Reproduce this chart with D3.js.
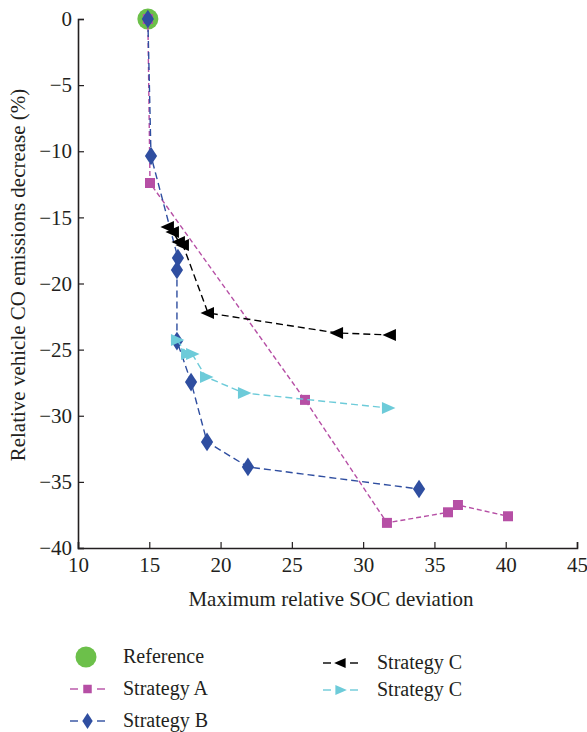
<!DOCTYPE html>
<html><head><meta charset="utf-8">
<script src="https://cdn.jsdelivr.net/npm/d3@7"></script>
<style>body{margin:0;background:#fff}svg{display:block}</style>
</head><body>
<script>
const xTicks = [10,15,20,25,30,35,40,45];
const yTicks = [0,-5,-10,-15,-20,-25,-30,-35,-40];
const refPoint = [[14.9, 0]];
const stratA_x = [14.9, 15.05, 25.92, 31.67, 35.95, 36.65, 40.16];
const stratA_y = [0, -12.4, -28.8, -38.1, -37.3, -36.75, -37.6];
const stratB_x = [14.9, 15.12, 17.01, 16.94, 16.94, 17.93, 19.05, 21.92, 33.92];
const stratB_y = [0, -10.36, -18.07, -18.98, -24.35, -27.45, -31.98, -33.87, -35.54];
const stratC1_x = [16.31, 16.66, 17.08, 17.36, 19.12, 28.17, 31.88];
const stratC1_y = [-15.73, -16.1, -16.86, -17.09, -22.23, -23.74, -23.89];
const stratC2_x = [16.94, 17.65, 18.0, 18.98, 21.64, 31.74];
const stratC2_y = [-24.27, -25.33, -25.33, -27.07, -28.28, -29.41];
const legendLabels = ["Reference","Strategy A","Strategy B","Strategy C","Strategy C"];

const FONT="'Liberation Serif', 'DejaVu Serif', serif";
const W=587,H=732;
const svg=d3.select("body").append("svg").attr("width",W).attr("height",H)
  .attr("font-family",FONT).style("font-family",FONT);
const x=d3.scaleLinear().domain([10,45]).range([78,577]);
const y=d3.scaleLinear().domain([-40,0]).range([548,19]);

const fs=21, lfs=20;
const txtCol="#231f20";
const gx=svg.append("g").attr("transform",`translate(0,${y(-40)})`)
  .call(d3.axisBottom(x).tickValues(xTicks).tickSize(-6).tickPadding(9).tickFormat(d3.format("d")));
const gy=svg.append("g").attr("transform",`translate(${x(10)},0)`)
  .call(d3.axisLeft(y).tickValues(yTicks).tickSize(-6).tickPadding(6).tickFormat(d=>d<0?"\u2212"+Math.abs(d):d));
[gx,gy].forEach(g=>{
  g.attr("font-family",FONT).attr("font-size",fs);
  g.select(".domain").attr("stroke",txtCol).attr("stroke-width",1.6);
  g.selectAll(".tick line").attr("stroke",txtCol).attr("stroke-width",1.2);
  g.selectAll(".tick text").attr("fill",txtCol);
});

svg.append("text").attr("x",331).attr("y",606).attr("text-anchor","middle").attr("font-size",fs).attr("fill",txtCol).text("Maximum relative SOC deviation");
svg.append("text").attr("transform","translate(25,275) rotate(-90)").attr("text-anchor","middle").attr("font-size",fs).attr("fill",txtCol).text("Relative vehicle CO emissions decrease (%)");

const colA="#b64fa5", colB="#2f4ea0", colC1="#000000", colC2="#6dcbd9", colRef="#6cc04a";
const line=d3.line().x(d=>x(d[0])).y(d=>y(d[1]));
const zip=(a,b)=>a.map((v,i)=>[v,b[i]]);

function markerPath(type,s){
  if(type==="square") return d3.symbol(d3.symbolSquare, s*s)();
  if(type==="diamond"){const w=s*0.36,h=s*0.55;return `M0,${-h}L${w},0L0,${h}L${-w},0Z`;}
  if(type==="left"){const r=s/2;return `M${-r},0L${r*0.8},${-r*0.8}L${r*0.8},${r*0.8}Z`;}
  if(type==="right"){const r=s/2;return `M${r},0L${-r*0.8},${-r*0.8}L${-r*0.8},${r*0.8}Z`;}
}

svg.append("g").selectAll("circle").data(refPoint).join("circle")
  .attr("cx",d=>x(d[0])).attr("cy",d=>y(d[1])).attr("r",10.5).attr("fill",colRef);

const series=[
  {xs:stratA_x,ys:stratA_y,col:colA,dash:"5,3",type:"square",size:10},
  {xs:stratB_x,ys:stratB_y,col:colB,dash:"7,4",type:"diamond",size:17},
  {xs:stratC1_x,ys:stratC1_y,col:colC1,dash:"7,4",type:"left",size:15},
  {xs:stratC2_x,ys:stratC2_y,col:colC2,dash:"7,4",type:"right",size:15}
];
series.forEach(s=>{
  const pts=zip(s.xs,s.ys);
  svg.append("path").datum(pts).attr("d",line).attr("fill","none").attr("stroke",s.col)
    .attr("stroke-width",1.4).attr("stroke-dasharray",s.dash);
  svg.append("g").selectAll("path").data(pts).join("path")
    .attr("transform",d=>`translate(${x(d[0])},${y(d[1])})`)
    .attr("d",markerPath(s.type,s.size)).attr("fill",s.col);
});

const leg=svg.append("g");
leg.append("circle").attr("cx",86).attr("cy",657).attr("r",10.5).attr("fill",colRef);
leg.append("text").attr("x",123).attr("y",663).attr("font-size",lfs).attr("fill",txtCol).text(legendLabels[0]);
const legItems=[
  {s:series[0],lx:70,ly:689,tx:123,label:legendLabels[1]},
  {s:series[1],lx:70,ly:721,tx:123,label:legendLabels[2]},
  {s:series[2],lx:323,ly:663,tx:377,label:legendLabels[3]},
  {s:series[3],lx:323,ly:690,tx:377,label:legendLabels[4]}
];
legItems.forEach(it=>{
  [[0,8],[27,35]].forEach(([a,b])=>{
    leg.append("line").attr("x1",it.lx+a).attr("x2",it.lx+b).attr("y1",it.ly).attr("y2",it.ly)
      .attr("stroke",it.s.col).attr("stroke-width",1.4);
  });
  leg.append("path").attr("transform",`translate(${it.lx+17.5},${it.ly})`).attr("d",markerPath(it.s.type,it.s.size*0.85)).attr("fill",it.s.col);
  leg.append("text").attr("x",it.tx).attr("y",it.ly+6).attr("font-size",lfs).attr("fill",txtCol).text(it.label);
});
</script>
</body></html>
